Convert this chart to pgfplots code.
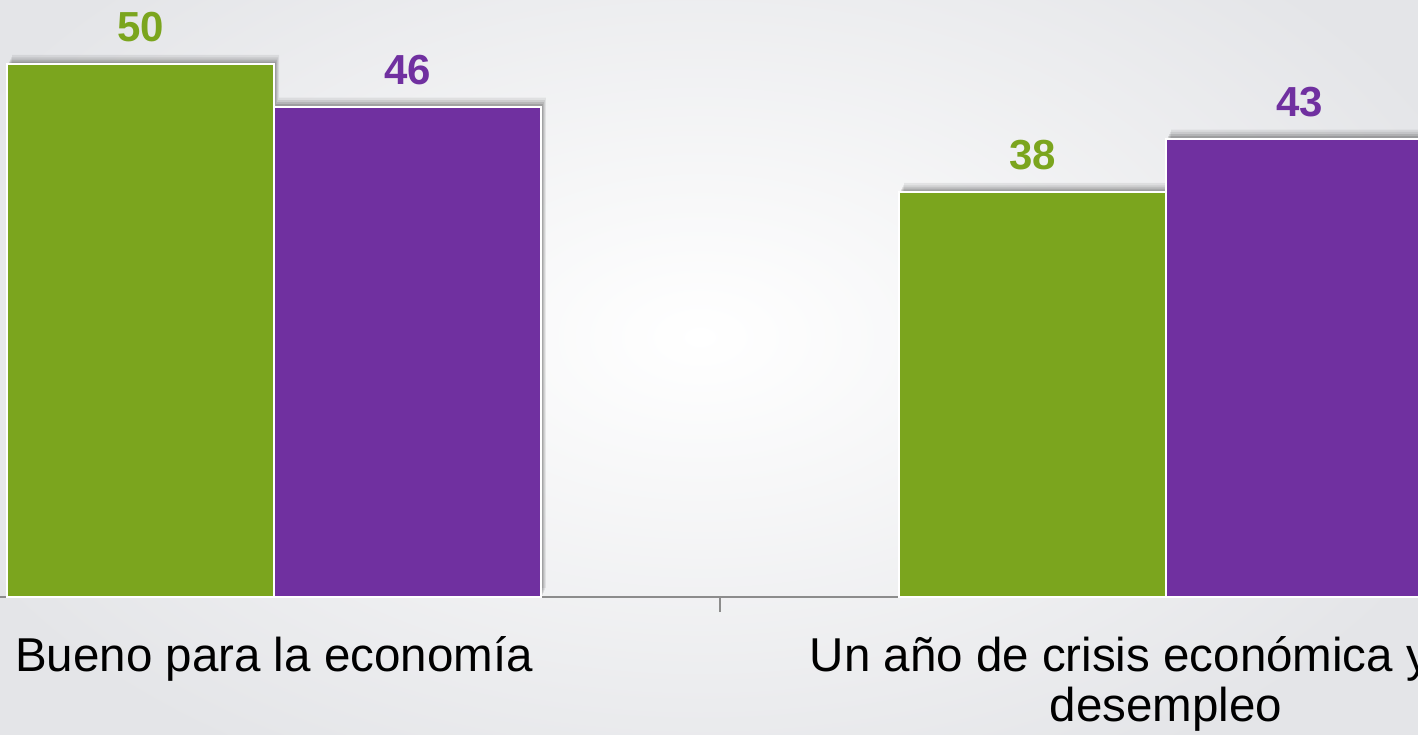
\documentclass[border=0pt]{standalone}
\usepackage{pgfplots}
\pgfplotsset{compat=1.18}
\usepackage{fontspec}
\setmainfont{Liberation Sans}
\definecolor{cgreen}{RGB}{123,165,30}
\definecolor{cpurple}{RGB}{112,48,160}
\definecolor{bggray}{RGB}{228,229,232}
\definecolor{axgray}{RGB}{140,140,140}
\pgfplotsset{
  barshadow/.style={
    preaction={fill=black, fill opacity=0.07, draw=none, transform canvas={xshift=2.5pt, yshift=4.5pt}},
    preaction={fill=black, fill opacity=0.08, draw=none, transform canvas={xshift=2pt, yshift=3.3pt}},
    preaction={fill=black, fill opacity=0.10, draw=none, transform canvas={xshift=1.5pt, yshift=2.2pt}},
    preaction={fill=black, fill opacity=0.12, draw=none, transform canvas={xshift=1pt, yshift=1.2pt}},
  }
}
\begin{document}
\begin{tikzpicture}
\shade[inner color=white, outer color=bggray] (-60pt,-120pt) rectangle (760pt,380pt);
\begin{axis}[
  at={(0,0)}, anchor=south west, scale only axis,
  width=709pt, height=298.5pt,
  xmin=-0.30717, xmax=1.28251, ymin=0, ymax=56,
  axis x line*=bottom, axis y line=none,
  x axis line style={draw=axgray, line width=1pt, -},
  xtick={0,1},
  xticklabels={Bueno para la economía, {\begin{tabular}[t]{@{}c@{}}Un año de crisis económica y\rule{46pt}{0pt}\\desempleo\end{tabular}}},
  major tick length=0pt,
  xticklabel style={font=\fontsize{23.75}{25}\selectfont, anchor=base, inner sep=0pt, yshift=-37pt},
  extra x ticks={0.5}, extra x tick labels={},
  extra x tick style={major tick length=7.5pt, tick align=outside, tick style={draw=axgray, line width=0.8pt}},
  ybar, bar width=0.2993,
  /pgf/number format/assume math mode=true,
  nodes near coords,
  every node near coord/.append style={font=\fontsize{21}{25}\selectfont\bfseries, anchor=south, inner sep=0pt, yshift=10.5pt},
]
\addplot[fill=cgreen, draw=white, line width=1pt, bar shift=-0.14965, barshadow,
  every node near coord/.append style={text=cgreen}] coordinates {(0,50) (1,38)};
\addplot[fill=cpurple, draw=white, line width=1pt, bar shift=0.14965, barshadow,
  every node near coord/.append style={text=cpurple}] coordinates {(0,46) (1,43)};
\end{axis}
\pgfresetboundingbox
\path[use as bounding box] (0,-68.5pt) rectangle (709pt,298.5pt);
\end{tikzpicture}
\end{document}
